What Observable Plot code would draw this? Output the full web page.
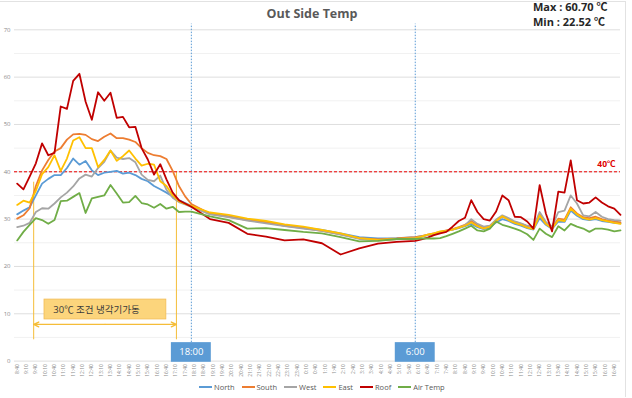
<!DOCTYPE html>
<html>
<head>
<meta charset="utf-8">
<script src="https://cdn.jsdelivr.net/npm/d3@7"></script>
<script src="https://cdn.jsdelivr.net/npm/@observablehq/plot@0.6"></script>
<style>
  body { margin: 0; background: #fff; font-family: "Open Sans", "Noto Sans CJK KR", sans-serif; }
  #chart { position: relative; width: 632px; height: 398px; overflow: hidden; }
  #chart svg { position: absolute; left: 0; top: 0; }
  .frame { position: absolute; left: 0; top: 1px; width: 626px; height: 396px; border-top: 1px solid #e2e2e2; border-right: 1px solid #e2e2e2; box-sizing: border-box; pointer-events: none; }
  .title { position: absolute; left: 0; width: 624px; top: 5px; text-align: center; font-weight: 700; font-size: 12.5px; color: #595959; }
  .stats { position: absolute; left: 533px; top: 0px; font-weight: 700; font-size: 11px; line-height: 14.5px; color: #262626; white-space: nowrap; }
  .legend { position: absolute; left: 199px; top: 382px; display: flex; align-items: center; font-size: 7.5px; color: #595959; white-space: nowrap; }
  .legend .item { display: flex; align-items: center; margin-right: 7px; }
  .legend .swatch { width: 13px; height: 1.6px; margin-right: 2px; }
</style>
</head>
<body>
<div id="chart"></div>
<script>
// Sample times: 20-minute readings through both days, hourly readings overnight.
const times = [
  "8:40","9:00","9:20","9:40","10:00","10:20","10:40","11:00","11:20","11:40",
  "12:00","12:20","12:40","13:00","13:20","13:40","14:00","14:20","14:40","15:00",
  "15:20","15:40","16:00","16:20","16:40","17:00","17:20","17:40","18:00",
  "19:00","20:00","21:00","22:00","23:00","0:00","1:00","2:00","3:00","4:00","5:00",
  "6:00","6:20","6:40","7:00","7:20","7:40","8:00","8:20","8:40","9:00",
  "9:20","9:40","10:00","10:20","10:40","11:00","11:20","11:40","12:00","12:20",
  "12:40","13:00","13:20","13:40","14:00","14:20","14:40","15:00","15:20","15:40",
  "16:00","16:20","16:40","17:00"
];

const north = [
  31.0,31.8,32.5,35.0,37.5,38.5,39.3,39.3,40.8,42.8,41.5,42.3,40.3,39.3,39.8,40.0,40.2,39.6,39.8,39.3,
  38.5,38.0,37.0,36.3,35.6,34.8,34.0,33.4,32.8,
  31.2,30.6,29.9,29.4,28.7,28.2,27.7,27.0,26.2,25.9,26.0,
  26.2,26.4,26.6,26.9,27.2,27.5,27.8,28.1,28.5,29.0,28.3,27.9,28.2,29.3,30.0,29.6,29.0,28.6,28.1,27.8,
  30.2,28.8,27.9,29.5,29.4,31.8,30.7,30.0,29.8,30.0,29.6,29.4,29.2,29.1
];
const south = [
  30.1,30.8,32.3,37.0,40.3,42.5,44.3,45.0,46.8,47.9,48.0,47.8,46.9,46.5,47.4,48.1,47.1,47.1,46.8,46.3,
  45.0,44.0,43.5,43.3,42.7,40.2,37.0,34.8,33.2,
  31.1,30.5,29.8,29.3,28.6,28.1,27.5,26.8,26.0,25.7,25.9,
  26.2,26.4,26.7,27.0,27.3,27.6,27.9,28.3,28.8,29.6,28.8,28.3,28.5,29.7,30.5,30.0,29.4,29.0,28.5,28.2,
  31.0,29.1,28.2,30.1,29.9,32.5,31.2,30.4,30.2,30.5,30.0,29.7,29.5,29.3
];
const west = [
  28.3,28.6,29.2,31.5,32.3,32.2,33.3,34.6,35.6,36.9,38.6,39.4,39.0,40.8,42.1,44.5,43.0,42.7,42.9,42.0,
  39.4,38.3,38.0,39.2,36.2,34.5,33.6,33.1,32.6,
  31.0,30.4,29.7,29.1,28.5,28.0,27.5,26.7,25.8,25.5,25.7,
  26.0,26.3,26.6,26.9,27.2,27.5,27.8,28.2,28.7,30.0,29.0,28.4,28.6,29.9,30.8,30.2,29.5,29.1,28.6,28.3,
  31.5,29.4,28.4,31.5,31.8,35.0,33.3,30.8,30.6,31.5,30.5,30.0,29.8,29.7
];
const east = [
  33.0,33.9,33.5,36.0,39.5,41.0,43.5,40.2,42.8,46.6,47.3,45.0,45.0,41.0,42.5,44.5,42.3,43.3,44.5,42.8,
  41.3,41.7,41.5,38.0,37.0,35.0,33.8,33.2,32.8,
  31.4,30.9,30.1,29.6,28.9,28.4,27.7,27.0,26.0,25.6,25.8,
  26.0,26.3,26.7,27.0,27.4,27.5,27.8,28.2,28.6,29.3,28.5,28.0,28.4,29.6,30.6,29.8,29.2,28.8,28.2,27.9,
  30.8,29.0,28.0,29.8,29.6,32.2,31.0,30.2,29.9,30.2,29.8,29.5,29.2,29.0
];
const roof = [
  37.5,36.3,39.0,41.8,46.0,43.5,44.0,53.8,53.3,59.2,60.7,54.8,51.0,56.8,55.0,56.7,51.4,51.6,49.4,49.5,
  45.0,42.6,39.4,41.6,38.4,35.6,34.0,33.3,32.6,
  30.0,29.2,26.9,26.3,25.5,25.7,24.9,22.52,23.8,24.8,25.2,
  25.4,25.7,26.1,26.6,27.0,27.3,28.4,29.6,30.3,34.0,31.5,30.0,29.7,31.6,35.0,34.0,30.5,30.4,29.5,28.0,
  37.2,31.2,27.4,35.8,35.6,42.4,34.0,33.3,33.5,34.6,33.5,32.7,32.2,30.9
];
const airTemp = [
  25.5,27.3,28.8,30.2,29.8,29.0,29.8,33.8,33.9,34.7,35.5,31.3,34.4,34.7,35.0,37.2,35.4,33.5,33.6,34.9,
  33.4,33.1,32.4,33.2,32.2,32.6,31.5,31.6,31.6,
  30.6,29.8,28.0,28.1,27.7,27.3,27.0,26.2,25.3,25.4,25.8,
  25.8,25.9,25.9,25.9,26.0,26.4,26.9,27.4,28.0,28.6,27.6,27.4,28.0,29.5,28.8,28.4,28.0,27.5,26.8,25.6,
  28.0,26.9,26.2,28.5,27.6,29.0,28.4,28.0,27.3,28.0,28.0,27.8,27.4,27.6
];

const seriesNames = ["North", "South", "West", "East", "Roof", "Air Temp"];
const seriesValues = [north, south, west, east, roof, airTemp];
const seriesColors = ["#5B9BD5", "#ED7D31", "#A5A5A5", "#FFC000", "#C00000", "#70AD47"];

const markerLabels = ["18:00", "6:00"];
const markerHours = [18, 30];
const coolingNote = "30℃ 조건 냉각기가동";
const thresholdLabel = "40℃";
const threshold = 40;

// Clock strings -> continuous hours (rolls past midnight into day two)
let dayOffset = 0, prevClock = -1;
const hours = times.map(t => {
  const [h, m] = t.split(":").map(Number);
  const v = h + m / 60;
  if (v < prevClock) dayOffset += 24;
  prevClock = v;
  return v + dayOffset;
});

const rows = seriesNames.flatMap((name, si) =>
  seriesValues[si].map((v, i) => ({series: name, hour: hours[i], temp: v}))
);

// Half-hourly axis ticks starting at 8:40
const tickHours = d3.range(0, 65).map(i => 8 + 40 / 60 + i * 0.5);
const clock = h => {
  const t = Math.round(h * 60) % 1440;
  return Math.floor(t / 60) + ":" + String(t % 60).padStart(2, "0");
};

// cooling period (chiller running while above 30℃): a double-headed bracket
const coolStart = 9.55, coolEnd = 17.2;
const coolMid = (coolStart + coolEnd) / 2;
const bracket = [
  {x1: coolMid, x2: coolStart, y: 7.75},
  {x1: coolMid, x2: coolEnd, y: 7.75}
];
const bracketColor = "#F5BD38";

const plot = Plot.plot({
  width: 632,
  height: 398,
  marginLeft: 14,
  marginRight: 12,
  marginTop: 29.3,
  marginBottom: 37.4,
  style: {fontFamily: "'Open Sans', 'Noto Sans CJK KR', sans-serif", background: "transparent"},
  x: {domain: [8.522, 41.0]},
  y: {domain: [0, 70]},
  color: {domain: seriesNames, range: seriesColors},
  marks: [
    Plot.gridY(d3.range(5, 70, 10), {stroke: "#f1f1f1", strokeOpacity: 1}),
    Plot.gridY(d3.range(0, 71, 10), {stroke: "#dedede", strokeOpacity: 1}),
    Plot.axisY(d3.range(0, 71, 10), {tickSize: 0, tickPadding: 4, fontSize: 6, fill: "#8a8a8a"}),
    Plot.axisX(tickHours, {tickFormat: clock, tickRotate: -90, tickSize: 0, tickPadding: 3, fontSize: 5, fill: "#8a8a8a"}),
    Plot.ruleX([{x: coolStart, top: 37.8}, {x: coolEnd, top: 40}], {x: "x", y1: 4.5, y2: "top", stroke: bracketColor, strokeWidth: 1}),
    Plot.arrow(bracket, {x1: "x1", y1: "y", x2: "x2", y2: "y", stroke: bracketColor, strokeWidth: 1.4, strokeOpacity: 1, headLength: 6, headAngle: 50}),
    Plot.rect([0], {x1: 10.13, x2: 16.66, y1: 8.8, y2: 13.0, fill: "#FCD57C", stroke: "#F3BC55", strokeWidth: 0.8}),
    Plot.text([coolingNote], {x: 10.6, y: 10.9, text: d => d, textAnchor: "start", fontSize: 9.5, fill: "#3a3a3a"}),
    // 40℃ threshold
    Plot.ruleY([threshold], {stroke: "#F00000", strokeDasharray: "3,2", strokeWidth: 1}),
    Plot.text([thresholdLabel], {x: 41.0, y: threshold, text: d => d, textAnchor: "end", dx: -5, dy: -8, fontSize: 8.5, fontWeight: "bold", fill: "#E00000"}),
    // 18:00 and 6:00 markers
    Plot.ruleX(markerHours, {y1: 3.9, y2: 71.2, stroke: "#5B9BD5", strokeDasharray: "1.5,1.5", strokeWidth: 1}),
    Plot.line(rows, {x: "hour", y: "temp", z: "series", stroke: "series", strokeWidth: 1.8, strokeLinejoin: "round"}),
    Plot.rect(markerHours, {x1: d => d - 1.07, x2: d => d + 1.07, y1: -0.25, y2: 3.9, fill: "#5B9BD5"}),
    Plot.text(markerHours, {x: d => d, y: 1.85, text: (d, i) => markerLabels[i], fill: "white", fontSize: 9.5})
  ]
});

const chart = document.getElementById("chart");
chart.appendChild(plot);

const frame = document.createElement("div");
frame.className = "frame";
chart.appendChild(frame);

const title = document.createElement("div");
title.className = "title";
title.textContent = "Out Side Temp";
chart.appendChild(title);

const all = seriesValues.flat();
const stats = document.createElement("div");
stats.className = "stats";
stats.innerHTML = `Max : ${d3.max(all).toFixed(2)} ℃<br>Min : ${d3.min(all).toFixed(2)} ℃`;
chart.appendChild(stats);

const legend = document.createElement("div");
legend.className = "legend";
seriesNames.forEach((name, i) => {
  const item = document.createElement("div");
  item.className = "item";
  const sw = document.createElement("span");
  sw.className = "swatch";
  sw.style.background = seriesColors[i];
  const label = document.createElement("span");
  label.textContent = name;
  item.appendChild(sw);
  item.appendChild(label);
  legend.appendChild(item);
});
chart.appendChild(legend);
</script>
</body>
</html>
